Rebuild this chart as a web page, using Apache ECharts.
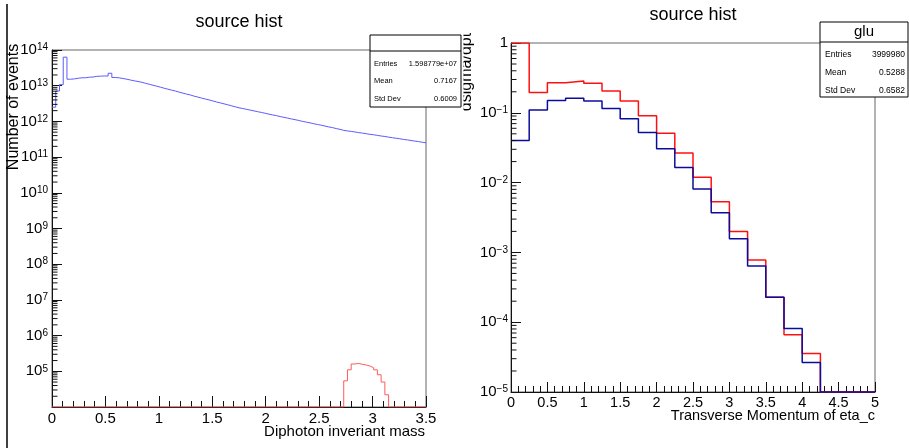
<!DOCTYPE html>
<html><head><meta charset="utf-8">
<script src="https://cdn.jsdelivr.net/npm/echarts@6/dist/echarts.min.js"></script>
<style>html,body{margin:0;padding:0;background:#fff}#c{width:909px;height:448px}</style>
</head><body><div id="c"></div>
<script>
// ---------- Left panel: Diphoton invariant mass (100 bins, 0..3.5) ----------
const massBinWidth = 0.035;
const massBlue = [
 2.5e12, 7.1e12, 1.07e13, 6.3e13, 1.52e13, 1.55e13, 1.62e13, 1.66e13, 1.67e13, 1.73e13,
 1.75e13, 1.83e13, 1.85e13, 1.87e13, 1.87e13, 2.23e13, 1.70e13, 1.66e13, 1.59e13, 1.52e13,
 1.44e13, 1.37e13, 1.31e13, 1.25e13, 1.17e13, 1.10e13, 1.03e13, 9.7e12, 9.1e12, 8.5e12,
 7.98e12, 7.5e12, 7.1e12, 6.6e12, 6.2e12, 5.8e12, 5.5e12, 5.1e12, 4.8e12, 4.5e12,
 4.24e12, 4.0e12, 3.75e12, 3.5e12, 3.3e12, 3.1e12, 2.92e12, 2.73e12, 2.56e12, 2.4e12,
 2.3e12, 2.18e12, 2.07e12, 1.97e12, 1.87e12, 1.78e12, 1.69e12, 1.6e12, 1.52e12, 1.45e12,
 1.37e12, 1.30e12, 1.24e12, 1.17e12, 1.12e12, 1.06e12, 1.0e12, 9.55e11, 9.1e11, 8.6e11,
 8.2e11, 7.8e11, 7.4e11, 7.0e11, 6.7e11, 6.3e11, 6.0e11, 5.6e11, 5.4e11, 5.25e11,
 5.05e11, 4.85e11, 4.7e11, 4.52e11, 4.35e11, 4.22e11, 4.06e11, 3.9e11, 3.78e11, 3.63e11,
 3.49e11, 3.38e11, 3.26e11, 3.13e11, 3.03e11, 2.92e11, 2.81e11, 2.72e11, 2.61e11, 2.52e11
];
const massRedFirstBin = 78;   // all other bins are empty
const massRed = [5.4e4, 1.1e5, 1.6e5, 1.66e5, 1.57e5, 1.5e5, 1.41e5, 1.26e5, 1.1e5, 8.0e4, 5.0e4, 2.2e4];
const massStats = [['Entries', '1.598779e+07'], ['Mean', '0.7167'], ['Std Dev', '0.6009']];
const massDecades = [4, 14];   // log10 range of the y axis

// ---------- Right panel: transverse momentum (20 bins, 0..5) ----------
const ptBinWidth = 0.25;
const ptRed  = [1.0, 0.195, 0.27, 0.286, 0.265, 0.206, 0.147, 0.0906, 0.051, 0.0266,
                0.0119, 0.0053, 0.0020, 7.8e-4, 2.28e-4, 6.6e-5, 3.57e-5, 0, 0, 0];
const ptBlue = [0.0402, 0.110, 0.150, 0.162, 0.148, 0.115, 0.082, 0.052, 0.0306, 0.0164,
                0.0081, 0.00369, 0.00157, 6.4e-4, 2.28e-4, 8.1e-5, 2.65e-5, 0, 0, 0];
const ptStats = [['Entries', '3999980'], ['Mean', '0.5288'], ['Std Dev', '0.6582']];
const ptDecades = [-5, 0];

const FONT = '"Liberation Sans", Arial, Helvetica, sans-serif';

function fullMassRed() {
  const out = new Array(massBlue.length).fill(0);
  massRed.forEach((v, i) => { out[massRedFirstBin + i] = v; });
  return out;
}
// step histogram points: one point per bin low edge plus the final edge
function stepPoints(vals, width, floor) {
  const pts = vals.map((v, i) => [i * width, v > 0 ? v : floor]);
  const last = vals[vals.length - 1];
  pts.push([vals.length * width, last > 0 ? last : floor]);
  return pts;
}
// log-axis minor tick positions (2..9 x 10^k)
function minorTickValues(dec) {
  const out = [];
  for (let e = dec[0]; e < dec[1]; e++) for (let k = 2; k <= 9; k++) out.push([0, k * Math.pow(10, e)]);
  return out;
}
function minorTickSeries(xi, yi, dec) {
  return {
    type: 'custom', xAxisIndex: xi, yAxisIndex: yi, silent: true, z: 5, clip: false,
    data: minorTickValues(dec),
    renderItem: function (params, api) {
      const p = api.coord([api.value(0), api.value(1)]);
      return { type: 'line', shape: { x1: p[0], y1: p[1], x2: p[0] + 5.5, y2: p[1] },
               style: { stroke: '#111', lineWidth: 1 } };
    }
  };
}
function supLabel(v) {
  const e = Math.round(Math.log10(v));
  if (e === 0) return '{b|1}';
  return '{b|10}{s|' + String(e).replace('-', '\u2212') + '}';
}
const richSup = {
  b: { fontSize: 15, fontFamily: FONT, color: '#000', lineHeight: 15, padding: [5, 0, 0, 0], verticalAlign: 'bottom' },
  s: { fontSize: 10, fontFamily: FONT, color: '#000', lineHeight: 11, verticalAlign: 'top' }
};
const axisCol = '#111';

function statBox(x, y, w, h, sep, title, rows, opts) {
  const els = [
    { type: 'rect', shape: { x: x, y: y, width: w, height: h }, style: { fill: '#fff', stroke: '#000', lineWidth: 1 }, z: 100 },
    { type: 'line', shape: { x1: x, y1: sep, x2: x + w, y2: sep }, style: { stroke: '#000', lineWidth: 1 }, z: 101 }
  ];
  if (title) els.push({ type: 'text', x: x + w / 2, y: (y + sep) / 2, z: 101,
    style: { text: title, align: 'center', verticalAlign: 'middle', fontSize: 15, fontFamily: FONT, fill: '#000' } });
  rows.forEach((r, i) => {
    const ry = opts.rowY[i];
    els.push({ type: 'text', x: x + opts.padL, y: ry, z: 101,
      style: { text: r[0], align: 'left', verticalAlign: 'middle', fontSize: opts.fs, fontFamily: FONT, fill: '#000' } });
    els.push({ type: 'text', x: x + w - opts.padR, y: ry, z: 101,
      style: { text: r[1], align: 'right', verticalAlign: 'middle', fontSize: opts.fs, fontFamily: FONT, fill: '#000' } });
  });
  return els;
}

const chart = echarts.init(document.getElementById('c'), null, { renderer: 'canvas' });
const option = {
  animation: false,
  backgroundColor: '#fff',
  grid: [
    { left: 52, top: 50, width: 374, height: 357, show: true, borderColor: '#666', borderWidth: 1, backgroundColor: 'transparent' },
    { left: 511, top: 43, width: 364, height: 349, show: true, borderColor: '#666', borderWidth: 1, backgroundColor: 'transparent' }
  ],
  xAxis: [
    { type: 'value', gridIndex: 0, min: 0, max: 3.5, interval: 0.5,
      axisLine: { onZero: false, lineStyle: { color: axisCol } },
      axisTick: { inside: true, length: 11, lineStyle: { color: axisCol } },
      minorTick: { show: true, splitNumber: 5, length: 6, lineStyle: { color: axisCol } },
      splitLine: { show: false },
      axisLabel: { margin: 4, fontSize: 15, fontFamily: FONT, color: '#000' } },
    { type: 'value', gridIndex: 1, min: 0, max: 5, interval: 0.5,
      axisLine: { onZero: false, lineStyle: { color: axisCol } },
      axisTick: { inside: true, length: 10, lineStyle: { color: axisCol } },
      minorTick: { show: true, splitNumber: 5, length: 6, lineStyle: { color: axisCol } },
      splitLine: { show: false },
      axisLabel: { margin: 3, fontSize: 14.5, fontFamily: FONT, color: '#000' } }
  ],
  yAxis: [
    { type: 'log', gridIndex: 0, logBase: 10, min: 1e4, max: 1e14, splitNumber: 10, interval: 1,
      axisLine: { lineStyle: { color: axisCol } },
      axisTick: { inside: true, length: 10, interval: 0, lineStyle: { color: axisCol } },
      minorTick: { show: false },
      splitLine: { show: false },
      axisLabel: { margin: 4, interval: 0, hideOverlap: false,
        formatter: v => Math.round(Math.log10(v)) === 4 ? '' : supLabel(v), rich: richSup } },
    { type: 'log', gridIndex: 1, logBase: 10, min: 1e-5, max: 1, splitNumber: 5,
      axisLine: { lineStyle: { color: axisCol } },
      axisTick: { inside: true, length: 10, interval: 0, lineStyle: { color: axisCol } },
      minorTick: { show: false },
      splitLine: { show: false },
      axisLabel: { margin: 3, interval: 0, hideOverlap: false, formatter: supLabel, rich: richSup } }
  ],
  series: [
    minorTickSeries(0, 0, massDecades),
    minorTickSeries(1, 1, ptDecades),
    { type: 'line', xAxisIndex: 0, yAxisIndex: 0, step: 'end', showSymbol: false, symbol: 'none',
      data: stepPoints(massBlue, massBinWidth, 1e4), lineStyle: { color: '#5b5bff', width: 1 } },
    { type: 'line', xAxisIndex: 0, yAxisIndex: 0, step: 'end', showSymbol: false, symbol: 'none',
      data: stepPoints(fullMassRed(), massBinWidth, 1e4), lineStyle: { color: '#ff5a5a', width: 1 } },
    { type: 'line', xAxisIndex: 1, yAxisIndex: 1, step: 'end', showSymbol: false, symbol: 'none',
      data: stepPoints(ptRed, ptBinWidth, 1e-5), lineStyle: { color: '#ff1010', width: 1.5 } },
    { type: 'line', xAxisIndex: 1, yAxisIndex: 1, step: 'end', showSymbol: false, symbol: 'none',
      data: stepPoints(ptBlue, ptBinWidth, 1e-5), lineStyle: { color: '#0c0c9c', width: 1.5 } }
  ],
  graphic: [].concat(
    [
      { type: 'line', shape: { x1: 7, y1: 4, x2: 7, y2: 448 }, style: { stroke: '#000', lineWidth: 1.5 }, z: 90 },
      { type: 'text', x: 239, y: 22, style: { text: 'source hist', align: 'center', verticalAlign: 'middle', fontSize: 18, fontFamily: FONT, fill: '#000' } },
      { type: 'text', x: 693, y: 15, style: { text: 'source hist', align: 'center', verticalAlign: 'middle', fontSize: 18, fontFamily: FONT, fill: '#000' } },
      { type: 'text', x: 13.5, y: 107, rotation: Math.PI / 2, z: 80,
        style: { text: 'Number of events', align: 'center', verticalAlign: 'middle', fontSize: 16, fontFamily: FONT, fill: '#000' } },
      { type: 'text', x: 467, y: 72, rotation: Math.PI / 2, z: 80,
        style: { text: 'dsigma/dpt', align: 'center', verticalAlign: 'middle', fontSize: 16, fontFamily: FONT, fill: '#000' } },
      { type: 'rect', shape: { x: 455, y: 26, width: 8.5, height: 92 }, style: { fill: '#fff' }, z: 85 },
      { type: 'text', x: 425, y: 432, style: { text: 'Diphoton inveriant mass', align: 'right', verticalAlign: 'middle', fontSize: 15, fontFamily: FONT, fill: '#000' } },
      { type: 'text', x: 875, y: 416, style: { text: 'Transverse Momentum of eta_c', align: 'right', verticalAlign: 'middle', fontSize: 14.5, fontFamily: FONT, fill: '#000' } }
    ],
    statBox(370, 35, 91, 72, 51, '', massStats, { rowY: [63.5, 81, 99], padL: 4, padR: 4, fs: 7.5 }),
    statBox(820, 22, 88, 75, 42, 'glu', ptStats, { rowY: [54.5, 72.5, 90.5], padL: 5, padR: 3, fs: 8.5 })
  )
};
chart.setOption(option);
</script>
</body></html>
